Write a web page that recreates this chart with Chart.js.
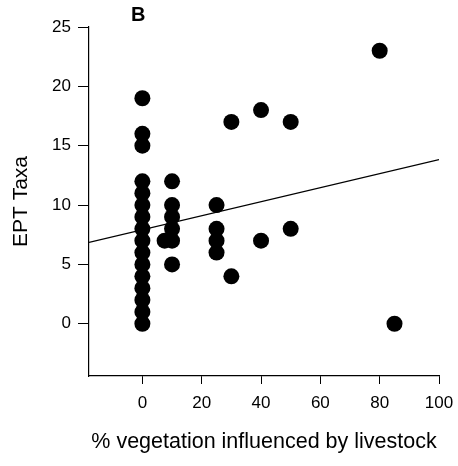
<!DOCTYPE html>
<html lang="en">
<head>
    <meta charset="UTF-8">
    <title>EPT Taxa vs livestock</title>
    <script src="https://cdn.jsdelivr.net/npm/chart.js"></script>
    <style>
        body { margin: 0; background: #fff; }
    </style>
</head>
<body>
    <canvas id="eptChart" width="458" height="466"></canvas>

    <script>
        // valores
        const vegX = [0, 0, 0, 0, 0, 0, 0, 0, 0, 0, 0, 0, 0, 0, 0, 0,
                      7.5, 10, 10, 10, 10, 10, 10,
                      25, 25, 25, 25, 30, 30, 40, 40, 50, 50, 80, 85];
        const eptY = [0, 1, 2, 3, 4, 5, 6, 7, 8, 9, 10, 11, 12, 15, 16, 19,
                      7, 5, 7, 8, 9, 10, 12,
                      6, 7, 8, 10, 4, 17, 7, 18, 8, 17, 23, 0];
        const fitX = [-18, 100];
        const fitY = [6.86, 13.83];
        const xTicks = [0, 20, 40, 60, 80, 100];
        const yTicks = [0, 5, 10, 15, 20, 25];

        const font = "'Liberation Sans', Arial, sans-serif";

        // letra do painel
        const panelLabel = {
            id: 'panelLabel',
            afterDraw(chart) {
                const ctx = chart.ctx;
                ctx.save();
                ctx.font = 'bold 20px ' + font;
                ctx.fillStyle = '#000';
                ctx.textBaseline = 'alphabetic';
                ctx.fillText('B', 131, 21);
                ctx.restore();
            }
        };

        new Chart(document.getElementById('eptChart'), {
            data: {
                datasets: [{
                    type: 'scatter',
                    data: vegX.map((x, i) => ({ x: x, y: eptY[i] })),
                    backgroundColor: '#000',
                    borderWidth: 0,
                    pointRadius: 8,
                    pointHoverRadius: 8
                }, {
                    type: 'line',
                    data: fitX.map((x, i) => ({ x: x, y: fitY[i] })),
                    borderColor: '#000',
                    borderWidth: 1.2,
                    pointRadius: 0,
                    fill: false
                }]
            },
            options: {
                responsive: false,
                animation: false,
                layout: { padding: { top: 27, right: 19, left: 0, bottom: 0 } },
                plugins: { legend: { display: false }, tooltip: { enabled: false } },
                scales: {
                    x: {
                        type: 'linear',
                        min: -18,
                        max: 100,
                        afterBuildTicks: s => { s.ticks = xTicks.map(v => ({ value: v })); },
                        afterFit: s => { s.height = 90; s.paddingLeft = 0; s.paddingRight = 0; },
                        grid: { drawOnChartArea: false, drawTicks: true, tickLength: 8, color: '#000' },
                        border: { color: '#000', width: 1.2 },
                        ticks: { color: '#000', font: { family: font, size: 17 }, padding: 9, maxRotation: 0 },
                        title: {
                            display: true,
                            text: '% vegetation influenced by livestock',
                            color: '#000',
                            font: { family: font, size: 21.5 },
                            padding: { top: 0, bottom: 11 }
                        }
                    },
                    y: {
                        type: 'linear',
                        min: -4.4,
                        max: 25,
                        afterBuildTicks: s => { s.ticks = yTicks.map(v => ({ value: v })); },
                        afterFit: s => { s.width = 89; },
                        grid: { drawOnChartArea: false, drawTicks: true, tickLength: 11, color: '#000' },
                        border: { color: '#000', width: 1.2 },
                        ticks: { color: '#000', font: { family: font, size: 17 }, padding: 7 },
                        title: {
                            display: true,
                            text: 'EPT Taxa',
                            color: '#000',
                            font: { family: font, size: 21 },
                            padding: { top: 9, bottom: 0 }
                        }
                    }
                }
            },
            plugins: [panelLabel]
        });
    </script>
</body>
</html>
